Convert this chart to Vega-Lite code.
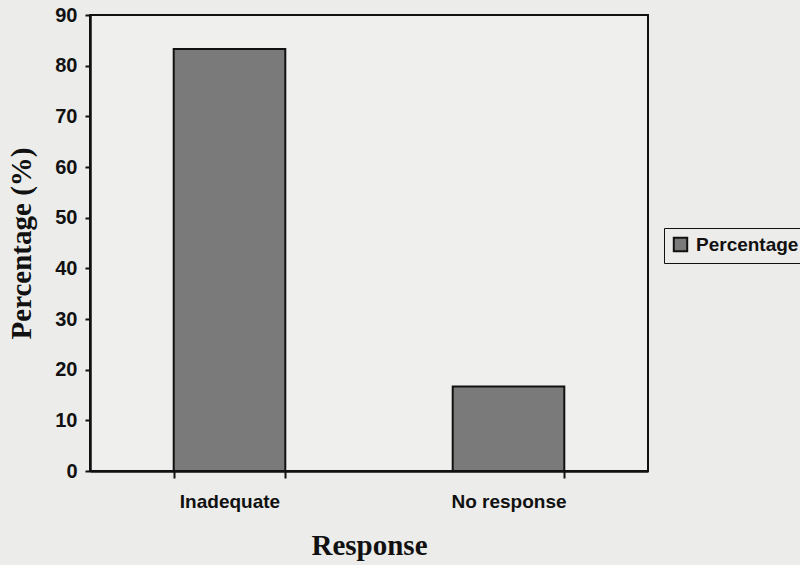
{
  "$schema": "https://vega.github.io/schema/vega-lite/v6.json",
  "width": 558,
  "height": 456,
  "autosize": "none",
  "padding": {"left": 90, "top": 15, "right": 152, "bottom": 94},
  "background": "#ececea",
  "data": {"values": [
    {"response": "Inadequate", "pct": 83.3, "series": "Percentage"},
    {"response": "No response", "pct": 16.7, "series": "Percentage"}
  ]},
  "mark": {"type": "bar", "stroke": "#111111", "strokeWidth": 2},
  "encoding": {
    "x": {
      "field": "response", "type": "nominal", "sort": null,
      "scale": {"paddingInner": 0.6, "paddingOuter": 0.3},
      "axis": {
        "title": "Response", "labelAngle": 0, "tickBand": "extent",
        "domainColor": "#111111", "domainWidth": 2.5, "tickColor": "#111111", "tickWidth": 2, "tickSize": 7,
        "labelFont": "Liberation Sans", "labelFontWeight": "bold", "labelFontSize": 19, "labelColor": "#111111", "labelPadding": 14,
        "titleFont": "Liberation Serif", "titleFontWeight": "bold", "titleFontSize": 29, "titleColor": "#111111", "titlePadding": 20
      }
    },
    "y": {
      "field": "pct", "type": "quantitative",
      "scale": {"domain": [0, 90]},
      "axis": {
        "title": "Percentage (%)", "values": [0,10,20,30,40,50,60,70,80,90], "grid": false,
        "domainColor": "#111111", "domainWidth": 2.5, "tickColor": "#111111", "tickWidth": 2, "tickSize": 5,
        "labelFont": "Liberation Sans", "labelFontWeight": "bold", "labelFontSize": 20, "labelColor": "#111111", "labelPadding": 8,
        "titleFont": "Liberation Serif", "titleFontWeight": "bold", "titleFontSize": 29, "titleColor": "#111111", "titlePadding": 18
      }
    },
    "color": {
      "field": "series", "type": "nominal",
      "scale": {"range": ["#7a7a7a"]},
      "legend": {
        "title": null, "orient": "none", "legendX": 574, "legendY": 213,
        "strokeColor": "#111111", "padding": 7,
        "symbolType": "square", "symbolSize": 180, "symbolStrokeColor": "#111111", "symbolStrokeWidth": 2,
        "labelFont": "Liberation Sans", "labelFontWeight": "bold", "labelFontSize": 19, "labelColor": "#111111", "labelOffset": 6
      }
    }
  },
  "config": {"view": {"stroke": "#111111", "strokeWidth": 2, "fill": "#efefed"}}
}
